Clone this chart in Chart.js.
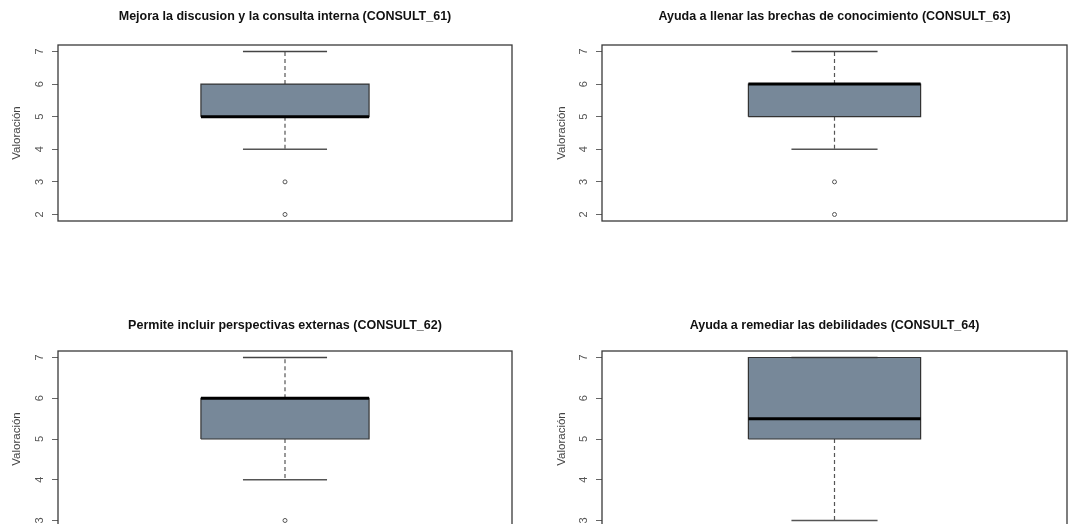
<!DOCTYPE html>
<html lang="es">
<head>
<meta charset="UTF-8">
<title>Valoración CONSULT_61 - CONSULT_64</title>
<script src="https://cdn.jsdelivr.net/npm/chart.js@4.4.1/dist/chart.umd.min.js"></script>
<style>
  html, body { margin: 0; padding: 0; background: #fff; }
  body { width: 1068px; height: 524px; overflow: hidden; position: relative; }
  canvas { position: absolute; }
</style>
</head>
<body>
<canvas id="c0" width="534" height="262" style="left:0;top:0"></canvas>
<canvas id="c1" width="534" height="262" style="left:534px;top:0"></canvas>
<canvas id="c2" width="534" height="262" style="left:0;top:306px"></canvas>
<canvas id="c3" width="534" height="262" style="left:534px;top:306px"></canvas>

<script>
  // one entry per panel: top-left, top-right, bottom-left, bottom-right
  const titles = [
    'Mejora la discusion y la consulta interna (CONSULT_61)',
    'Ayuda a llenar las brechas de conocimiento (CONSULT_63)',
    'Permite incluir perspectivas externas (CONSULT_62)',
    'Ayuda a remediar las debilidades (CONSULT_64)'
  ];
  const whiskerLow  = [4, 4, 4, 3];
  const q1          = [5, 5, 5, 5];
  const medians     = [5, 6, 6, 5.5];
  const q3          = [6, 6, 6, 7];
  const whiskerHigh = [7, 7, 7, 7];
  const outliers    = [[2, 3], [2, 3], [3], []];
  const yTicks      = [[2, 3, 4, 5, 6, 7], [2, 3, 4, 5, 6, 7], [3, 4, 5, 6, 7], [3, 4, 5, 6, 7]];
  const yLabel = 'Valoración';

  // layout of each panel inside its canvas
  const axisWidth = [58, 68, 58, 68];
  const padRight  = [22, 1, 22, 1];
  const yTitlePad = [10, 21, 10, 21];
  const titlePadTop = [9.5, 9.5, 12.5, 12.5];

  const boxHalf = 0.2;
  const capHalf = 0.1;
  const fontFamily = "'Liberation Sans', Arial, sans-serif";

  function seg(x1, y1, x2, y2, color, width, dash) {
    return {
      data: [{ x: x1, y: y1 }, { x: x2, y: y2 }],
      borderColor: color,
      borderWidth: width,
      borderDash: dash || [],
      borderCapStyle: 'butt',
      pointRadius: 0,
      fill: false
    };
  }

  // plot frame, like R's box()
  const framePlugin = {
    id: 'frame',
    afterDatasetsDraw(chart) {
      const a = chart.chartArea;
      const ctx = chart.ctx;
      ctx.save();
      ctx.strokeStyle = '#3a3a3a';
      ctx.lineWidth = 1.3;
      ctx.strokeRect(a.left, a.top, a.right - a.left, a.bottom - a.top);
      ctx.restore();
    }
  };

  titles.forEach((title, i) => {
    const lo = Math.min(whiskerLow[i], ...outliers[i]);
    const hi = whiskerHigh[i];
    const ext = (hi - lo) * 0.04;

    const datasets = [
      seg(1 - boxHalf, medians[i], 1 + boxHalf, medians[i], '#000', 3),
      {
        data: outliers[i].map(v => ({ x: 1, y: v })),
        showLine: false,
        pointRadius: 2,
        pointBorderWidth: 1,
        pointBorderColor: '#555',
        pointBackgroundColor: 'rgba(0,0,0,0)'
      },
      {
        data: [
          { x: 1 - boxHalf, y: q1[i] }, { x: 1 + boxHalf, y: q1[i] },
          { x: 1 + boxHalf, y: q3[i] }, { x: 1 - boxHalf, y: q3[i] },
          { x: 1 - boxHalf, y: q1[i] }
        ],
        borderColor: '#333',
        borderWidth: 1.2,
        pointRadius: 0,
        fill: false
      },
      seg(1 - capHalf, whiskerHigh[i], 1 + capHalf, whiskerHigh[i], '#444', 1.5),
      seg(1 - capHalf, whiskerLow[i], 1 + capHalf, whiskerLow[i], '#555', 1.5),
      seg(1, q3[i], 1, whiskerHigh[i], '#555', 1.2, [4, 3]),
      seg(1, q1[i], 1, whiskerLow[i], '#555', 1.2, [4, 3]),
      {
        data: [{ x: 1 - boxHalf, y: q3[i] }, { x: 1 + boxHalf, y: q3[i] }],
        borderWidth: 0,
        pointRadius: 0,
        backgroundColor: '#778899',
        fill: { value: q1[i] }
      }
    ];

    new Chart(document.getElementById('c' + i), {
      type: 'line',
      data: { datasets },
      plugins: [framePlugin],
      options: {
        responsive: false,
        animation: false,
        events: [],
        layout: {
          autoPadding: false,
          padding: { left: 0, right: padRight[i], top: 0, bottom: 41 }
        },
        plugins: {
          legend: { display: false },
          tooltip: { enabled: false },
          title: {
            display: true,
            text: title,
            fullSize: false,
            color: '#111',
            font: { family: fontFamily, size: 12.5, weight: 'bold', lineHeight: 1.2 },
            padding: { top: titlePadTop[i], bottom: 30 - titlePadTop[i] }
          }
        },
        scales: {
          x: {
            type: 'linear',
            display: false,
            min: 0.46,
            max: 1.54
          },
          y: {
            type: 'linear',
            min: lo - ext,
            max: hi + ext,
            afterBuildTicks: scale => { scale.ticks = yTicks[i].map(v => ({ value: v })); },
            afterFit: scale => { scale.width = axisWidth[i]; },
            border: { display: false },
            grid: { display: true, drawOnChartArea: false, drawTicks: true, tickLength: 6, color: '#666', lineWidth: 1 },
            ticks: {
              minRotation: 90,
              maxRotation: 90,
              crossAlign: 'center',
              padding: 9,
              color: '#555',
              font: { family: fontFamily, size: 11 }
            },
            title: {
              display: true,
              text: yLabel,
              color: '#444',
              font: { family: fontFamily, size: 11.5 },
              padding: { top: yTitlePad[i], bottom: 0 }
            }
          }
        }
      }
    });
  });
</script>
</body>
</html>
